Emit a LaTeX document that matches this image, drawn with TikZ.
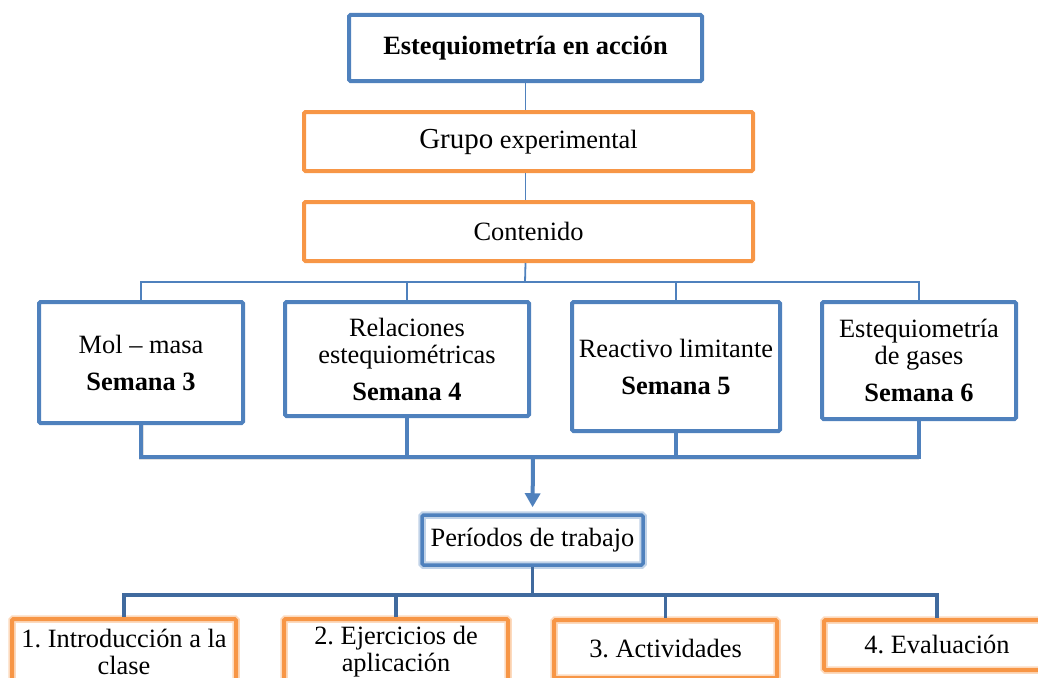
\documentclass[tikz,border=0pt]{standalone}
\usepackage{fontspec}
\setmainfont{Liberation Serif}
\usetikzlibrary{arrows.meta}
\frenchspacing

\definecolor{azul}{RGB}{79,129,189}
\definecolor{azuloscuro}{RGB}{64,106,158}
\definecolor{naranja}{RGB}{247,150,70}

\tikzset{
  caja/.style={draw=azul, line width=4pt, rounded corners=1.5pt, align=center,
    inner sep=0pt, font=\fontsize{26.4}{27}\selectfont},
  cajanar/.style={caja, draw=naranja},
  brillo/.style={preaction={draw=#1!35, line width=7.5pt}},
  conector/.style={draw=azul, line width=1.8pt},
  llave/.style={draw=azul, line width=4.5pt},
  sombra/.style={draw=black!40, line width=5pt, opacity=.3, shift={(1.5,3)}},
  flecha/.style={draw=azul, line width=4pt, -{Triangle[length=14pt,width=15pt]}, shorten >=6pt},
  ramal/.style={draw=azuloscuro, line width=3.5pt}
}

\begin{document}
\begin{tikzpicture}[x=1pt,y=1pt,yscale=-1]
\clip (0,0) rectangle (1038,677);

% titulo y contenido
\node[caja, minimum width=353pt, minimum height=66pt] (tema) at (525.5,48) {\textbf{Estequiometría en acción}};
\node[cajanar, minimum width=449pt, minimum height=59pt] (grupo) at (528.5,141.5) {{\fontsize{29}{30}\selectfont Grupo} experimental};
\node[cajanar, minimum width=449pt, minimum height=59pt] (contenido) at (528.5,231.5) {Contenido};

% semanas
\node[caja, minimum width=204pt, minimum height=121pt] (m1) at (141,362.5) {Mol -- masa\\[10pt]\textbf{Semana 3}};
\node[caja, minimum width=244pt, minimum height=114pt] (m2) at (407,359) {Relaciones\\estequiométricas\\[10pt]\textbf{Semana 4}};
\node[caja, minimum width=208pt, minimum height=129pt] (m3) at (676,366.5) {Reactivo limitante\\[10pt]\textbf{Semana 5}};
\node[caja, minimum width=194pt, minimum height=117pt] (m4) at (919,360.5) {Estequiometría\\de gases\\[10pt]\textbf{Semana 6}};

% periodos
\node[caja, brillo=azul, line width=3.5pt, minimum width=221pt, minimum height=50pt] (periodos) at (532.5,540) {Períodos de trabajo};

\node[cajanar, brillo=naranja, minimum width=224pt, minimum height=66pt] (a1) at (124,652) {1. Introducción a la\\clase};
\node[cajanar, brillo=naranja, minimum width=224pt, minimum height=66pt] (a2) at (396,652) {2. Ejercicios de\\aplicación};
\node[cajanar, brillo=naranja, minimum width=223pt, minimum height=58pt] (a3) at (665.5,649) {3. Actividades};
\node[cajanar, brillo=naranja, minimum width=226pt, minimum height=50pt] (a4) at (937,645) {4. Evaluación};

\coordinate (rama) at (525,282);
\coordinate (union) at (533,457);
\coordinate (reparto) at (533,595);

% conectores
\draw[conector] (tema.south) -- (tema.south |- grupo.north);
\draw[conector] (tema.south |- grupo.south) -- (tema.south |- contenido.north);
\draw[conector] (tema.south |- contenido.south) -- (rama);
\draw[conector] (m1.north) -- (m1.north |- rama) -- (m4.north |- rama) -- (m4.north);
\foreach \n in {m2,m3} \draw[conector] (\n.north) -- (\n.north |- rama);

\draw[sombra] (m1.south) -- (m1.south |- union) -- (m4.south |- union);
\draw[llave] (m1.south) -- (m1.south |- union) -- (m4.south |- union) -- (m4.south);
\foreach \n in {m2,m3} \draw[llave] (\n.south) -- (\n.south |- union);
\draw[flecha] (union) -- (periodos.north);

\draw[ramal] (periodos.south) -- (periodos.south |- reparto);
\draw[ramal] (a1.north) -- (a1.north |- reparto) -- (a4.north |- reparto) -- (a4.north);
\foreach \n in {a2,a3} \draw[ramal] (\n.north) -- (\n.north |- reparto);

\end{tikzpicture}
\end{document}
